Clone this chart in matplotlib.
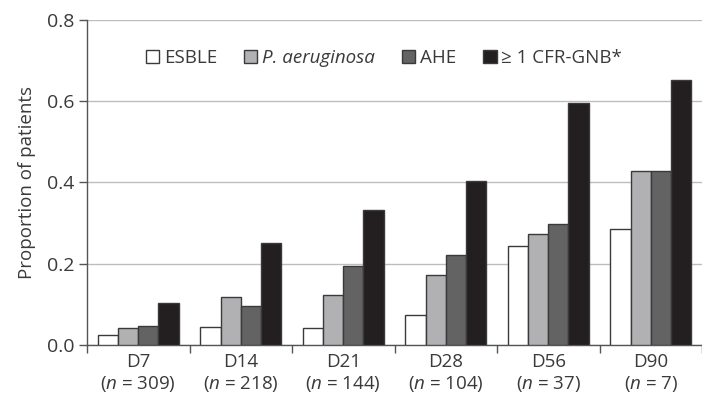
import matplotlib
matplotlib.use("Agg")
import matplotlib.pyplot as plt
import numpy as np

plt.rcParams['font.family'] = ['Open Sans', 'DejaVu Sans']
plt.rcParams['mathtext.fontset'] = 'custom'
plt.rcParams['mathtext.it'] = 'Open Sans:italic'
plt.rcParams['mathtext.rm'] = 'Open Sans'

days = ["D7", "D14", "D21", "D28", "D56", "D90"]
n_patients = [309, 218, 144, 104, 37, 7]

esble = [0.024, 0.045, 0.043, 0.075, 0.244, 0.286]
p_aeruginosa = [0.043, 0.119, 0.124, 0.172, 0.272, 0.428]
ahe = [0.048, 0.096, 0.194, 0.221, 0.298, 0.428]
cfr_gnb = [0.104, 0.252, 0.333, 0.404, 0.595, 0.652]

series = [esble, p_aeruginosa, ahe, cfr_gnb]
names = ["ESBLE", "P. aeruginosa", "AHE", "\u2265 1 CFR-GNB*"]
colors = ["#ffffff", "#b1b1b4", "#636363", "#231f20"]

text_col = "#3a3a3a"

fig = plt.figure(figsize=(7.02, 4.05), dpi=100)
ax = fig.add_axes([0.124, 0.148, 0.876, 0.803])

x = np.arange(len(days))
w = 0.197
for i, (vals, col, name) in enumerate(zip(series, colors, names)):
    ax.bar(x + (i - 1.5) * w, vals, width=w, color=col, edgecolor="#3a3a3a",
           linewidth=1.0, label=name, zorder=3)

ax.set_ylim(0, 0.8)
ax.set_xlim(-0.5, 5.46)
ax.set_yticks([0.0, 0.2, 0.4, 0.6, 0.8])
ax.set_yticklabels(["0.0", "0.2", "0.4", "0.6", "0.8"])
ax.yaxis.grid(True, color="#bdbdbd", linewidth=1.0, zorder=0)
ax.set_axisbelow(True)

# category boundaries carry the ticks, labels sit between them
ax.set_xticks(np.arange(-0.5, 5.6, 1.0))
ax.set_xticklabels([])
ax.set_xticks(x, minor=True)
ax.set_xticklabels(["%s\n($\\it{n}$ = %d)" % (d, n) for d, n in zip(days, n_patients)],
                   minor=True)
ax.tick_params(axis="x", which="minor", length=0, pad=6, labelsize=13.5, labelcolor=text_col)
ax.tick_params(axis="x", which="major", length=6, width=1.0, color="#555555")
ax.tick_params(axis="y", length=6, width=1.0, color="#555555", labelsize=14,
               labelcolor=text_col, pad=3)

for s in ["top", "right"]:
    ax.spines[s].set_visible(False)
for s in ["left", "bottom"]:
    ax.spines[s].set_color("#555555")
    ax.spines[s].set_linewidth(1.0)

ax.set_ylabel("Proportion of patients", fontsize=13.5, color=text_col, labelpad=8)

leg = ax.legend(loc="center", bbox_to_anchor=(0.483, 0.883), ncol=4, frameon=False,
                fontsize=13.5, handlelength=0.7, handleheight=0.7, handletextpad=0.25,
                columnspacing=1.45, labelcolor=text_col)
leg.get_texts()[1].set_fontstyle("italic")

fig.savefig("out.png", dpi=100)
